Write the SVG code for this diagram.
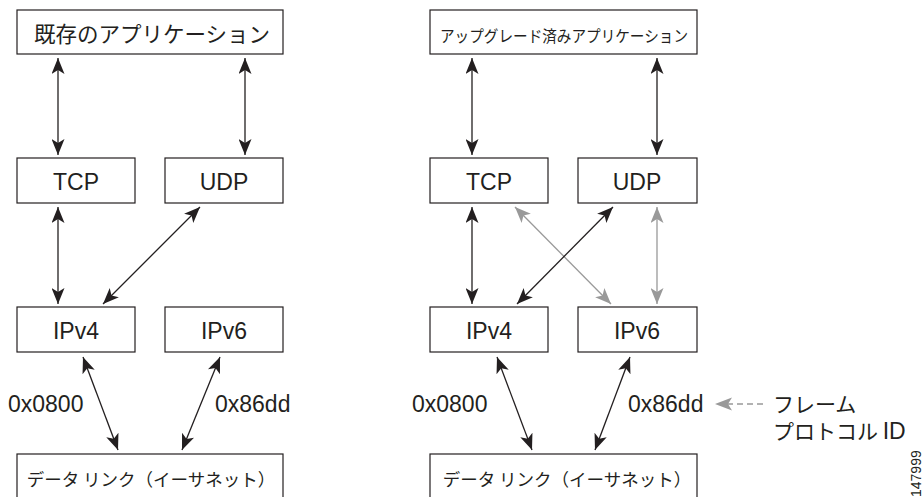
<svg xmlns="http://www.w3.org/2000/svg" width="924" height="497" viewBox="0 0 924 497">
<defs>
<style>
.box{fill:#fff;stroke:#231f20;stroke-width:1.2}
.lat{font-family:"Liberation Sans",Arial,sans-serif;fill:#231f20}
.jp{font-family:"Noto Sans CJK JP","Noto Sans",sans-serif;fill:#231f20}
.c{text-anchor:middle}
.blk{stroke:#231f20;stroke-width:1.3;fill:none;marker-start:url(#ab);marker-end:url(#ab)}
.gry{stroke:#999;stroke-width:1.3;fill:none;marker-start:url(#ag);marker-end:url(#ag)}
</style>
<marker id="ab" viewBox="0 0 16 13" markerWidth="16" markerHeight="13" refX="16" refY="6.5" orient="auto-start-reverse" markerUnits="userSpaceOnUse"><path d="M0,0 L16,6.5 L0,13 L4,6.5 z" fill="#231f20"/></marker>
<marker id="ag" viewBox="0 0 16 13" markerWidth="16" markerHeight="13" refX="16" refY="6.5" orient="auto-start-reverse" markerUnits="userSpaceOnUse"><path d="M0,0 L16,6.5 L0,13 L4,6.5 z" fill="#999"/></marker>
</defs>
<rect width="924" height="497" fill="#fff"/>
<g id="connectors">
<line class="blk" x1="58" y1="58" x2="58" y2="155"/>
<line class="blk" x1="245" y1="58" x2="245" y2="155"/>
<line class="blk" x1="58" y1="207" x2="58" y2="304"/>
<line class="blk" x1="200" y1="207" x2="103" y2="304"/>
<line class="blk" x1="83" y1="357" x2="118" y2="450"/>
<line class="blk" x1="220" y1="357" x2="182" y2="450"/>
<line class="blk" x1="472" y1="58" x2="472" y2="155"/>
<line class="blk" x1="657" y1="58" x2="657" y2="155"/>
<line class="blk" x1="472" y1="207" x2="472" y2="304"/>
<line class="gry" x1="515" y1="207" x2="611" y2="304"/>
<line class="blk" x1="613" y1="207" x2="517" y2="304"/>
<line class="gry" x1="657" y1="207" x2="657" y2="304"/>
<line class="blk" x1="497" y1="357" x2="532" y2="450"/>
<line class="blk" x1="630" y1="357" x2="595" y2="450"/>
<line x1="763" y1="404" x2="724" y2="404" stroke="#999" stroke-width="1.3" stroke-dasharray="6,4"/>
<path d="M715,404 L732,397.5 L728,404 L732,410.5 z" fill="#999"/>
</g>
<g id="app-left"><rect class="box" x="17" y="10" width="266" height="44"/><text class="jp c" x="152" y="42" font-size="21.5">既存のアプリケーション</text></g>
<g id="tcp-left"><rect class="box" x="17" y="158" width="118" height="45"/><text class="lat c" x="76" y="190" font-size="23">TCP</text></g>
<g id="udp-left"><rect class="box" x="165" y="158" width="118" height="45"/><text class="lat c" x="224" y="190" font-size="23">UDP</text></g>
<g id="ipv4-left"><rect class="box" x="17" y="307" width="118" height="45"/><text class="lat c" x="76" y="339" font-size="23">IPv4</text></g>
<g id="ipv6-left"><rect class="box" x="165" y="307" width="118" height="45"/><text class="lat c" x="224" y="339" font-size="23">IPv6</text></g>
<g id="link-left"><rect class="box" x="17" y="454" width="266" height="50"/><text class="jp c" x="151" y="486" font-size="17.5">データ リンク（イーサネット）</text></g>
<g id="labels-left">
<text class="lat" x="8" y="412" font-size="23">0x0800</text>
<text class="lat" x="215" y="412" font-size="23">0x86dd</text>
</g>
<g id="app-right"><rect class="box" x="430" y="10" width="267" height="44"/><text class="jp" x="440" y="42" font-size="16" textLength="248" lengthAdjust="spacingAndGlyphs">アップグレード済みアプリケーション</text></g>
<g id="tcp-right"><rect class="box" x="430" y="158" width="118" height="45"/><text class="lat c" x="489" y="190" font-size="23">TCP</text></g>
<g id="udp-right"><rect class="box" x="578" y="158" width="119" height="45"/><text class="lat c" x="637" y="190" font-size="23">UDP</text></g>
<g id="ipv4-right"><rect class="box" x="430" y="307" width="118" height="45"/><text class="lat c" x="489" y="339" font-size="23">IPv4</text></g>
<g id="ipv6-right"><rect class="box" x="578" y="307" width="119" height="45"/><text class="lat c" x="637" y="339" font-size="23">IPv6</text></g>
<g id="link-right"><rect class="box" x="430" y="454" width="267" height="50"/><text class="jp c" x="567" y="486" font-size="17.5">データ リンク（イーサネット）</text></g>
<g id="labels-right">
<text class="lat" x="412" y="412" font-size="23">0x0800</text>
<text class="lat" x="628" y="412" font-size="23">0x86dd</text>
<text class="jp" x="773" y="412" font-size="21">フレーム</text>
<text class="jp" x="773" y="439" font-size="21">プロトコル <tspan class="lat" font-size="23">ID</tspan></text>
<text class="lat" transform="translate(921,497) rotate(-90)" font-size="14">147999</text>
</g>
</svg>
